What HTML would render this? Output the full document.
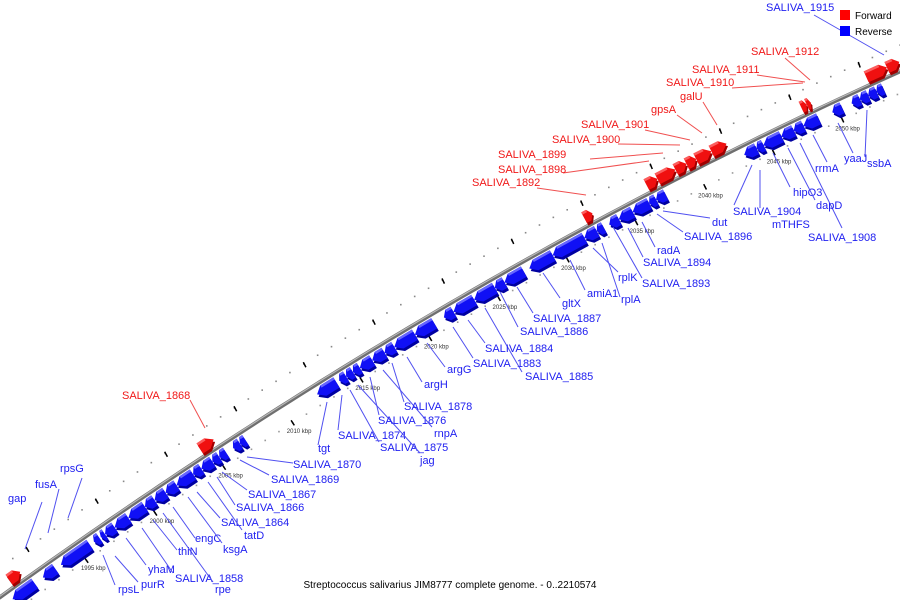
<!DOCTYPE html>
<html><head><meta charset="utf-8">
<style>
html,body{margin:0;padding:0;background:#fff;}
#wrap{position:relative;width:900px;height:600px;overflow:hidden;font-family:"Liberation Sans",sans-serif;}
svg text{font-family:"Liberation Sans",sans-serif;}
</style></head>
<body>
<div id="wrap">
<svg id="map" width="900" height="600" viewBox="0 0 900 600">
  <g id="grid"></g>
  <g id="axisg"></g>
  <g id="genes"></g>
  <g id="labels"></g>
  <g>
    <rect x="840" y="10" width="10" height="10" fill="#f00"/>
    <text x="855" y="19" font-size="10" fill="#000">Forward</text>
    <rect x="840" y="26" width="10" height="10" fill="#00f"/>
    <text x="855" y="35" font-size="10" fill="#000">Reverse</text>
  </g>
  <text x="450" y="588" font-size="10" text-anchor="middle" fill="#000">Streptococcus salivarius JIM8777 complete genome. - 0..2210574</text>
</svg>
</div>
<script>
// ---- data ----
const tickKbp = [1995,2000,2005,2010,2015,2020,2025,2030,2035,2040,2045,2050];
const geneStart = [1990.1,1992.3,1993.6,1996.0,1996.5,1996.8,1997.5,1998.5,1999.7,2000.4,2001.2,2002.0,2003.2,2003.8,2004.6,2005.1,2006.1,2006.6,
 2012.2,2013.8,2014.3,2014.8,2015.3,2016.2,2017.1,2017.8,2019.3,2021.4,2022.1,2023.6,2025.1,2025.8,2027.6,2029.3,2031.6,2032.5,2033.4,2034.1,2035.1,2036.3,2036.8,
 2043.2,2044.1,2044.6,2045.9,2046.8,2047.5,2049.6,2051.0,2051.6,2052.2,2052.8,
 1990.6,2004.4,2032.2,2036.7,2037.5,2038.8,2039.6,2040.3,2041.4,2047.9,2048.3,2052.6,2054.1];
const geneEnd = [1991.7,1993.2,1995.7,1996.4,1996.8,1997.5,1998.5,1999.7,2000.4,2001.2,2002.0,2003.2,2003.8,2004.6,2005.1,2005.6,2006.6,2007.0,
 2013.6,2014.3,2014.8,2015.3,2016.2,2017.1,2017.8,2019.3,2020.7,2022.1,2023.6,2025.1,2025.8,2027.2,2029.3,2031.6,2032.5,2033.0,2034.1,2035.1,2036.3,2036.8,2037.5,
 2044.1,2044.6,2045.9,2046.8,2047.5,2048.6,2050.3,2051.6,2052.2,2052.8,2053.3,
 1991.4,2005.4,2032.8,2037.5,2038.8,2039.6,2040.3,2041.4,2042.5,2048.3,2048.6,2054.1,2055.0];
const geneStrand = [-1,-1,-1,-1,-1,-1,-1,-1,-1,-1,-1,-1,-1,-1,-1,-1,-1,-1,
 -1,-1,-1,-1,-1,-1,-1,-1,-1,-1,-1,-1,-1,-1,-1,-1,-1,-1,-1,-1,-1,-1,-1,
 -1,-1,-1,-1,-1,-1,-1,-1,-1,-1,-1,
 1,1,1,1,1,1,1,1,1,1,1,1,1];
const labelText = ["gap","fusA","rpsG","rpsL","purR","yhaM","SALIVA_1858","rpe","thiN","engC","ksgA","SALIVA_1864","tatD","SALIVA_1866","SALIVA_1867","SALIVA_1869","SALIVA_1870",
 "tgt","SALIVA_1874","SALIVA_1875","jag","SALIVA_1876","rnpA","SALIVA_1878","argH","argG","SALIVA_1883","SALIVA_1885","SALIVA_1884","SALIVA_1886","SALIVA_1887","gltX","amiA1","rplA","rplK","SALIVA_1893","SALIVA_1894","radA","SALIVA_1896","dut",
 "SALIVA_1904","mTHFS","SALIVA_1908","hipO3","dapD","rrmA","yaaJ","ssbA","SALIVA_1915",
 "SALIVA_1868","SALIVA_1892","SALIVA_1898","SALIVA_1899","SALIVA_1900","SALIVA_1901","gpsA","galU","SALIVA_1910","SALIVA_1911","SALIVA_1912"];
const labelStrand = [-1,-1,-1,-1,-1,-1,-1,-1,-1,-1,-1,-1,-1,-1,-1,-1,-1,
 -1,-1,-1,-1,-1,-1,-1,-1,-1,-1,-1,-1,-1,-1,-1,-1,-1,-1,-1,-1,-1,-1,-1,
 -1,-1,-1,-1,-1,-1,-1,-1,-1,
 1,1,1,1,1,1,1,1,1,1,1];
// label layout (pixel placement of annotation text and leader lines, not data)
const labelPos = [[8,502],[35,488],[60,472],[118,593],[141,588],[148,573],[175,582],[215,593],[178,555],[195,542],[223,553],[221,526],[244,539],[236,511],[248,498],[271,483],[293,468],
 [318,452],[338,439],[380,451],[420,464],[378,424],[434,437],[404,410],[424,388],[447,373],[473,367],[525,380],[485,352],[520,335],[533,322],[562,307],[587,297],[621,303],[618,281],[642,287],[643,266],[657,254],[684,240],[712,226],
 [733,215],[772,228],[808,241],[793,196],[816,209],[815,172],[844,162],[867,167],[766,11],
 [122,399],[472,186],[498,173],[498,158],[552,143],[581,128],[651,113],[680,100],[666,86],[692,73],[751,55]];
const labelLine = [[42,502,25,549],[59,489,48,533],[82,478,68,518],[115,585,103,555],[138,582,115,556],[146,565,126,538],[173,573,142,528],[213,582,163,513],[177,550,153,520],[195,538,173,507],[222,543,188,497],[220,518,197,492],[242,530,208,482],[235,505,217,477],[247,490,222,472],[269,475,240,460],[293,463,247,457],
 [318,445,327,402],[338,430,342,395],[379,442,350,390],[420,453,358,385],[379,415,370,377],[432,427,383,370],[404,402,392,363],[422,382,407,357],[445,367,427,343],[473,358,453,327],[522,372,485,308],[485,343,468,320],[518,327,500,292],[533,313,517,287],[560,298,543,273],[585,290,570,260],[620,297,602,243],[618,272,593,248],[642,278,613,227],[643,257,628,228],[655,247,642,222],[683,232,657,214],[710,218,663,211],
 [734,205,752,165],[760,208,760,170],[842,228,800,143],[790,187,773,153],[815,200,788,148],[827,162,813,135],[853,153,838,123],[865,157,867,110],[814,15,884,55],
 [190,400,205,428],[537,188,586,195],[563,173,649,161],[590,159,663,153],[618,144,680,145],[645,130,690,140],[677,115,702,133],[703,102,717,125],[732,88,803,83],[757,75,805,82],[785,58,810,80]];

// ---- axis functions ----
function xOf(k){ return 75 + (k-1995)*13.8; }
function yOfX(x){ return 597.2 - 0.721*x + 0.000152*x*x; }
function slope(x){ return -0.721 + 2*0.000152*x; }
function pt(k, off){
  const x = xOf(k), y = yOfX(x), s = slope(x);
  const n = Math.hypot(1,s);
  return [x + (-s/n)*off, y + (1/n)*off];
}
const NS = "http://www.w3.org/2000/svg";
function mk(tag, attrs, parent){
  const e = document.createElementNS(NS, tag);
  for (const k in attrs) e.setAttribute(k, attrs[k]);
  parent.appendChild(e);
  return e;
}
const grid = document.getElementById('grid');
const axisg = document.getElementById('axisg');
const genesG = document.getElementById('genes');
const labG = document.getElementById('labels');

let d = "";
for (let x = -10; x <= 910; x += 10) d += (d ? "L" : "M") + x + "," + yOfX(x).toFixed(1);
const ax1 = mk('path', {d: d, fill: 'none', stroke: '#6f6f6f', 'stroke-width': 4}, axisg);


const ax2 = mk('path', {d: d, fill: 'none', stroke: '#b8b8b8', 'stroke-width': 1.2, transform: 'translate(0,-1)'}, axisg);



for (let k = 1989; k <= 2056; k += 1) {
  const a = pt(k + 0.5, -24);
  const dot = mk('rect', {x: a[0]-0.8, y: a[1]-0.8, width: 1.6, height: 1.6, fill: '#888'}, grid);
  
  
  const b = pt(k, 20);
  const dot2 = mk('rect', {x: b[0]-0.8, y: b[1]-0.8, width: 1.6, height: 1.6, fill: '#999'}, grid);
  
  
}
for (let k = 1987.5; k <= 2056; k += 5) {
  const a = pt(k, -20), b = pt(k, -26);
  const ds = mk('line', {x1: a[0], y1: a[1], x2: b[0]+0.6, y2: b[1], stroke: '#000', 'stroke-width': 1.5}, grid);
  
  
}
tickKbp.forEach(k => {
  const a = pt(k, 17), b = pt(k, 23);
  const ds = mk('line', {x1: a[0], y1: a[1], x2: b[0], y2: b[1], stroke: '#000', 'stroke-width': 1.5}, grid);
  
  
  const c = pt(k, 32);
  const t = mk('text', {x: c[0], y: c[1], 'font-size': 6, fill: '#333', 'text-anchor': 'middle'}, grid);
  t.textContent = k + " kbp";
  
  
});

function poly(pts){ return pts.map(p => p[0].toFixed(1)+","+p[1].toFixed(1)).join(" "); }
for (let i = 0; i < geneStart.length; i++) {
  const s = geneStart[i], e = geneEnd[i], st = geneStrand[i];
  const o1 = st < 0 ? 3 : -3, o2 = st < 0 ? 15 : -15, om = (o1+o2)/2;
  const len = e - s, tip = Math.min(0.45, len*0.45);
  let pts;
  if (st < 0) pts = [pt(s, om), pt(s+tip, o1), pt(e, o1), pt(e, o2), pt(s+tip, o2)];
  else pts = [pt(s, o1), pt(e-tip, o1), pt(e, om), pt(e-tip, o2), pt(s, o2)];
  const main = st < 0 ? '#1010f5' : '#f01010';
  const dark = st < 0 ? '#0000a0' : '#a00000';
  const light = st < 0 ? '#7a7aff' : '#ff7070';
  const sh = mk('polygon', {points: poly(pts.map(p => [p[0]+1.5, p[1]+2.5])), fill: dark}, genesG);
  
  
  const g = mk('polygon', {points: poly(pts), fill: main}, genesG);
  
  
  const top = st < 0 ? [pts[1], pts[2], pt(e, o1+2.5), pt(s+tip, o1+2.5)] : [pts[3], pts[4], pt(s, o2+2.5), pt(e-tip, o2+2.5)];
  const tf = mk('polygon', {points: poly(top), fill: light, opacity: 0.8}, genesG);
  
  
}

for (let i = 0; i < labelText.length; i++) {
  const st = labelStrand[i];
  const col = st > 0 ? '#f01818' : '#2020f0';
  const lcol = st > 0 ? '#f05050' : '#5050f0';
  const L = labelLine[i];
  const ln = mk('line', {x1: L[0], y1: L[1], x2: L[2], y2: L[3], stroke: lcol, 'stroke-width': 1}, labG);
  
  
  const t = mk('text', {x: labelPos[i][0], y: labelPos[i][1], 'font-size': 11, fill: col}, labG);
  t.textContent = labelText[i];
  
  
}
</script>
</body></html>
